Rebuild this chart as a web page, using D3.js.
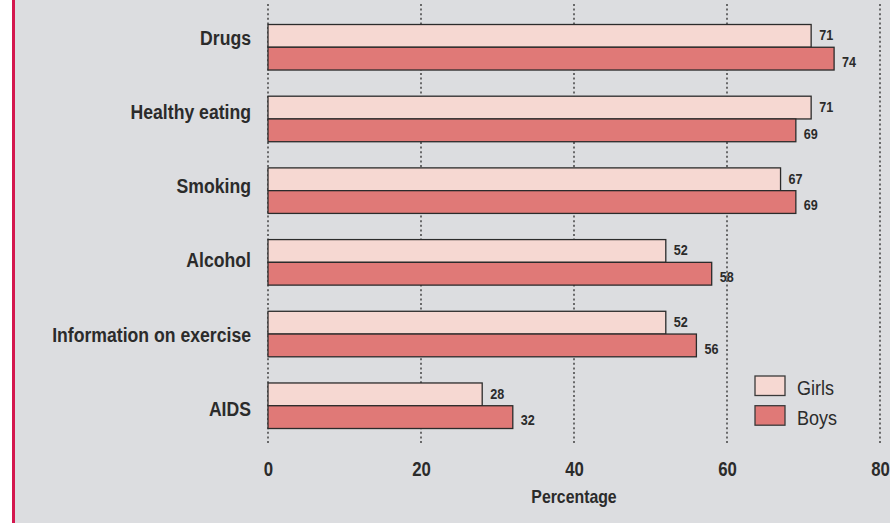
<!DOCTYPE html>
<html>
<head>
<meta charset="utf-8">
<script src="https://cdn.jsdelivr.net/npm/d3@7"></script>
<style>
  html, body { margin: 0; padding: 0; background: #ffffff; }
  svg { display: block; }
  text { font-family: "Liberation Sans", Arial, sans-serif; fill: #2b2b2b; }
</style>
</head>
<body>
<svg id="chart" width="890" height="523"></svg>
<script>
// Health topics covered, percentage of pupils by sex
const categories = ["Drugs", "Healthy eating", "Smoking", "Alcohol", "Information on exercise", "AIDS"];
const girls = [71, 71, 67, 52, 52, 28];
const boys  = [74, 69, 69, 58, 56, 32];
const seriesNames = ["Girls", "Boys"];
const seriesColors = ["#f6d8d2", "#e07977"];
const xTicks = [0, 20, 40, 60, 80];
const xTitle = "Percentage";

const W = 890, H = 523;
const NARROW = 0.84; // horizontal squeeze for a condensed look
const svg = d3.select("#chart");

// panel background and left accent rule
svg.append("rect").attr("x", 15).attr("y", 0).attr("width", W - 15).attr("height", H).attr("fill", "#dcdde0");
svg.append("rect").attr("x", 12).attr("y", 0).attr("width", 3).attr("height", H).attr("fill", "#d4174e");

const x = d3.scaleLinear().domain([0, 80]).range([268, 880]);
const y = d3.scaleBand().domain(categories).range([24.5, 428.5]).paddingInner(0.365).paddingOuter(0);
const ySub = d3.scaleBand().domain(seriesNames).range([0, y.bandwidth()]);
// category label positions
const yLabel = d3.scalePoint().domain(categories).range([37.5, 408.5]);

// dotted vertical gridlines
svg.append("g").selectAll("line").data(xTicks).join("line")
  .attr("x1", d => x(d)).attr("x2", d => x(d))
  .attr("y1", 4).attr("y2", 445)
  .attr("stroke", "#2b2b2b").attr("stroke-width", 1.3)
  .attr("stroke-dasharray", "2,2.6");

// bars
const rows = categories.map((c, i) => ({ cat: c, values: [girls[i], boys[i]] }));
const groups = svg.append("g").selectAll("g").data(rows).join("g")
  .attr("transform", d => `translate(0,${y(d.cat)})`);

const cells = d => d.values.map((v, j) => ({ v, s: seriesNames[j], j }));

groups.selectAll("rect").data(cells).join("rect")
  .attr("x", x(0))
  .attr("y", d => ySub(d.s))
  .attr("width", d => x(d.v) - x(0))
  .attr("height", ySub.bandwidth())
  .attr("fill", d => seriesColors[d.j])
  .attr("stroke", "#2b2b2b").attr("stroke-width", 1.3);

// value labels
groups.selectAll("text").data(cells).join("text")
  .attr("transform", d => `translate(${x(d.v) + 8},${ySub(d.s) + ySub.bandwidth() / 2 + (d.j === 0 ? -1 : 3)}) scale(${NARROW},1)`)
  .attr("dy", "0.35em")
  .attr("font-size", 15).attr("font-weight", "bold")
  .text(d => d.v);

// category labels
svg.append("g").selectAll("text").data(categories).join("text")
  .attr("transform", d => `translate(251,${yLabel(d)}) scale(${NARROW},1)`)
  .attr("dy", "0.35em")
  .attr("text-anchor", "end")
  .attr("font-size", 21).attr("font-weight", "bold")
  .text(d => d);

// x axis tick labels
const xAxis = d3.axisBottom(x).tickValues(xTicks).tickSize(0).tickPadding(0);
const gx = svg.append("g").attr("transform", "translate(0,462)").call(xAxis);
gx.select(".domain").remove();
gx.selectAll("text")
  .attr("fill", "#2b2b2b").attr("font-size", 20).attr("font-weight", "bold")
  .attr("font-family", "\"Liberation Sans\", Arial, sans-serif")
  .attr("y", 0).attr("dy", "0.71em")
  .attr("transform", `scale(${NARROW},1)`);

svg.append("text")
  .attr("transform", `translate(${(x(0) + x(80)) / 2},503) scale(0.88,1)`)
  .attr("text-anchor", "middle").attr("font-size", 18).attr("font-weight", "bold")
  .text(xTitle);

// legend
const legend = svg.append("g").selectAll("g").data(seriesNames).join("g")
  .attr("transform", (d, i) => `translate(755,${376 + i * 29.7})`);
legend.append("rect").attr("width", 30).attr("height", 19.5)
  .attr("fill", (d, i) => seriesColors[i])
  .attr("stroke", "#3a3a3a").attr("stroke-width", 1.3);
legend.append("text")
  .attr("transform", "translate(42,19) scale(0.9,1)")
  .attr("font-size", 20).text(d => d);
</script>
</body>
</html>
